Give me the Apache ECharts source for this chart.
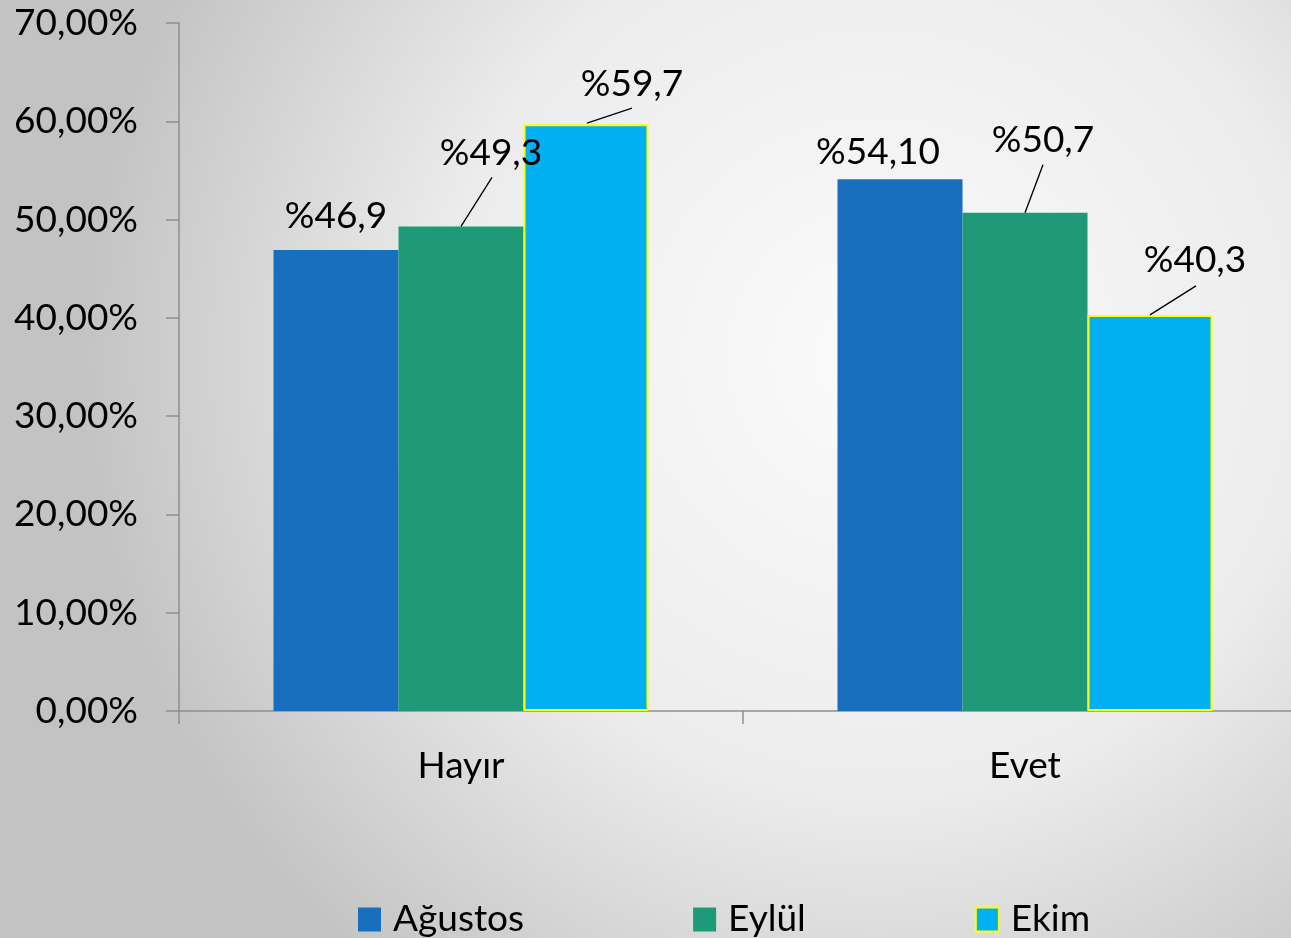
<!DOCTYPE html>
<html>
<head>
<meta charset="utf-8">
<script src="https://cdn.jsdelivr.net/npm/echarts@6/dist/echarts.min.js"></script>
<style>
  html, body { margin: 0; padding: 0; }
  #main { width: 1291px; height: 938px; }
</style>
</head>
<body>
<div id="main"></div>
<script>
// data
let categories = ['Hayır', 'Evet'];
let seriesNames = ['Ağustos', 'Eylül', 'Ekim'];
let agustos = [46.9, 54.1];
let eylul = [49.3, 50.7];
let ekim = [59.7, 40.3];
let agustosLabels = ['%46,9', '%54,10'];
let eylulLabels = ['%49,3', '%50,7'];
let ekimLabels = ['%59,7', '%40,3'];

// label nudges (dx, dy) per series / category
let labelMoves = [
    [[0, -10], [-22, -4]],
    [[30, -50], [18, -49]],
    [[46, -17], [45, -31]]
];
// leader line ends relative to the top centre of the bar: [start, end]
let leaderEnds = [
    null,
    [[[0, 0], [31, -49]], [[0, 0], [18, -48]]],
    [[[1, -1], [46, -16]], [[0, 0], [46, -29]]]
];

const font = 'Lato, "Open Sans", sans-serif';
const axisGrey = '#8e8e8e';
const barW = 125;

let chart = echarts.init(document.getElementById('main'));

function barSeries(name, values, texts, color, idx, border) {
    return {
        name: name,
        type: 'bar',
        barWidth: barW,
        barGap: '0%',
        data: values,
        itemStyle: border ? { color: color, borderColor: '#ffff00', borderWidth: 2 } : { color: color },
        label: {
            show: true,
            position: 'top',
            distance: 5,
            color: '#000',
            fontSize: 37,
            fontFamily: font,
            formatter: function (p) { return texts[p.dataIndex]; }
        },
        labelLayout: function (p) {
            let m = labelMoves[idx][p.dataIndex];
            return { dx: m[0], dy: m[1] };
        }
    };
}

// leader lines, anchored on the bar tops through the axes
function leaderSeries(values, idx) {
    return {
        type: 'custom',
        silent: true,
        z: 5,
        data: values.map(function (v, i) { return [i, v]; }),
        renderItem: function (params, api) {
            let p = api.coord([api.value(0), api.value(1)]);
            let x = p[0] + barW * (idx - 1);
            let e = leaderEnds[idx][params.dataIndex];
            return {
                type: 'line',
                shape: { x1: x + e[0][0], y1: p[1] + e[0][1], x2: x + e[1][0], y2: p[1] + e[1][1] },
                style: { stroke: '#000', lineWidth: 1.3 }
            };
        }
    };
}

let option = {
    animation: false,
    backgroundColor: {
        type: 'radial', x: 0.68, y: 0.38, r: 0.85,
        colorStops: [
            { offset: 0, color: '#fbfbfb' },
            { offset: 0.55, color: '#ececec' },
            { offset: 1, color: '#c3c3c3' }
        ]
    },
    textStyle: { fontFamily: font },
    grid: { left: 179, width: 1128, top: 23, bottom: 227, containLabel: false, outerBoundsMode: 'none' },
    legend: {
        left: 353,
        top: 896,
        icon: 'rect',
        itemWidth: 23,
        itemHeight: 24,
        itemGap: 169,
        data: seriesNames,
        textStyle: { fontSize: 37, color: '#000', fontFamily: font, padding: [0, 0, 0, 7] }
    },
    xAxis: {
        type: 'category',
        data: categories,
        boundaryGap: true,
        axisLine: { lineStyle: { color: axisGrey, width: 1.5 } },
        axisTick: { show: true, length: 13, lineStyle: { color: axisGrey, width: 1.5 } },
        axisLabel: { fontSize: 37, color: '#000', margin: 37, fontFamily: font }
    },
    yAxis: {
        type: 'value',
        min: 0,
        max: 70,
        interval: 10,
        splitLine: { show: false },
        axisLine: { show: true, lineStyle: { color: axisGrey, width: 1.5 } },
        axisTick: { show: true, length: 13, lineStyle: { color: axisGrey, width: 1.5 } },
        axisLabel: {
            fontSize: 37,
            color: '#000',
            margin: 41,
            fontFamily: font,
            formatter: function (v) { return v.toFixed(2).replace('.', ',') + '%'; }
        }
    },
    series: [
        barSeries(seriesNames[0], agustos, agustosLabels, '#176fbd', 0, false),
        barSeries(seriesNames[1], eylul, eylulLabels, '#1e9a78', 1, false),
        barSeries(seriesNames[2], ekim, ekimLabels, '#00b0f0', 2, true),
        leaderSeries(eylul, 1),
        leaderSeries(ekim, 2)
    ]
};
chart.setOption(option);
</script>
</body>
</html>
